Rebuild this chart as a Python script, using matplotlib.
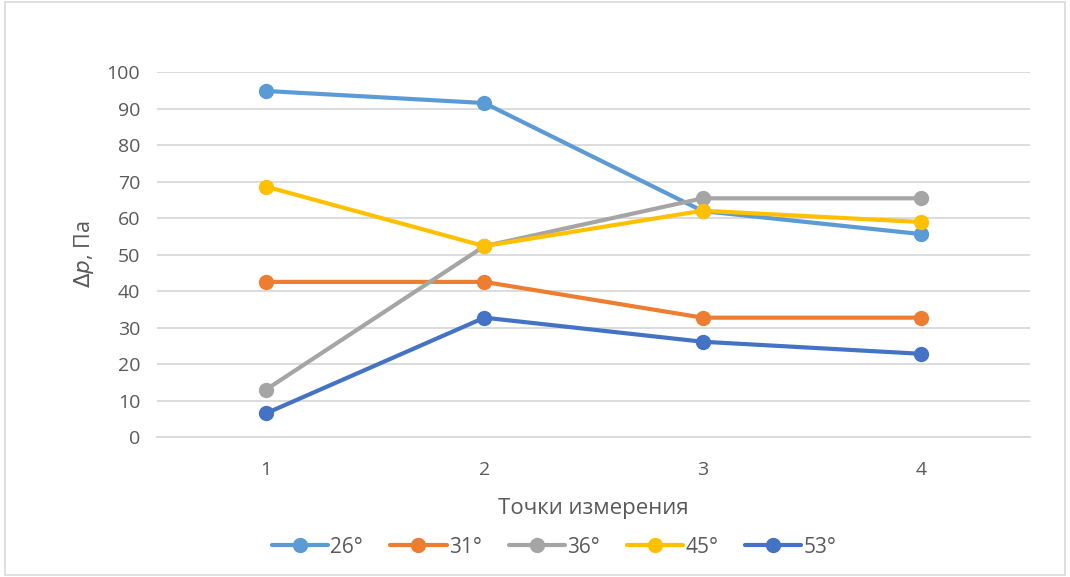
import numpy as np
import matplotlib
matplotlib.use('Agg')
import matplotlib.pyplot as plt
from matplotlib.patches import Rectangle

plt.rcParams['font.family'] = ['Open Sans', 'DejaVu Sans']

points = [1, 2, 3, 4]
labels = ['26°', '31°', '36°', '45°', '53°']
v26 = [94.8, 91.5, 61.9, 55.6]
v31 = [42.5, 42.5, 32.7, 32.7]
v36 = [13.0, 52.3, 65.4, 65.4]
v45 = [68.6, 52.3, 62.0, 58.9]
v53 = [6.5, 32.7, 26.1, 22.8]
series = [v26, v31, v36, v45, v53]
colors = ['#5B9BD5', '#ED7D31', '#A5A5A5', '#FFC000', '#4472C4']

fig = plt.figure(figsize=(10.7, 5.77), dpi=100)
ax = fig.add_axes([0.1467, 0.2426, 0.816, 0.6326])

for vals, lab, c in zip(series, labels, colors):
    ax.plot(points, vals, color=c, lw=3, marker='o', ms=10, label=lab,
            solid_capstyle='round')

ax.set_xlim(0.5, 4.5)
ax.set_ylim(0, 100)
ax.set_yticks(np.arange(0, 101, 10))
ax.set_xticks(points)
ax.grid(axis='y', color='#D9D9D9', lw=1.3)
ax.set_axisbelow(True)
for s in ['top', 'right', 'left']:
    ax.spines[s].set_visible(False)
ax.spines['bottom'].set_color('#D9D9D9')
ax.spines['bottom'].set_linewidth(1.3)
ax.tick_params(axis='y', length=0, labelsize=14, colors='#595959', pad=12)
ax.tick_params(axis='x', length=0, labelsize=14, colors='#595959', pad=17)

ax.set_xlabel('Точки измерения', fontsize=16, color='#595959', labelpad=14)
ax.set_ylabel(r'$\mathit{\Delta p}$, Па', fontsize=15.5, color='#595959', labelpad=8)

ax.legend(loc='upper center', bbox_to_anchor=(0.455, -0.25), ncol=5, frameon=False,
          fontsize=15, labelcolor='#595959', handlelength=2.7, handletextpad=0.1,
          columnspacing=1.3, borderaxespad=0)

fig.patches.append(Rectangle((0.005, 0.004), 0.99, 0.992, transform=fig.transFigure,
                             fill=False, edgecolor='#D9D9D9', lw=1.2))

fig.savefig('out.png', dpi=100)
